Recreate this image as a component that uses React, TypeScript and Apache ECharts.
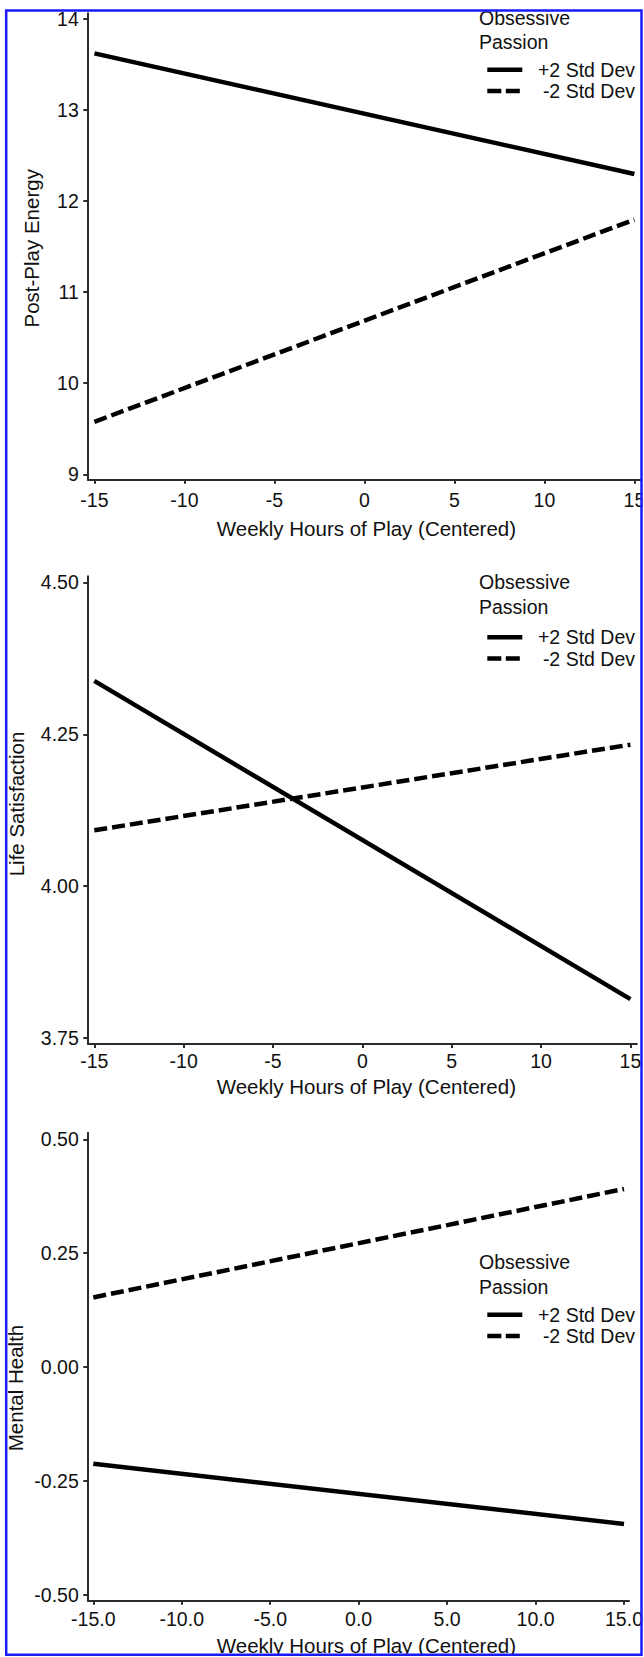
import React, { useEffect, useRef } from "react";
import * as echarts from "echarts";

// ---------------- data ----------------
const xValues = [-15, 15];
const xTicks = [-15, -10, -5, 0, 5, 10, 15];

const energyHigh = [13.62, 12.295];
const energyLow = [9.576, 11.795];
const energyTicks = [9, 10, 11, 12, 13, 14];

const lifeHigh = [4.338, 3.814];
const lifeLow = [4.092, 4.233];
const lifeTicks = [3.75, 4.0, 4.25, 4.5];

const mentalHigh = [-0.212, -0.344];
const mentalLow = [0.153, 0.391];
const mentalTicks = [-0.5, -0.25, 0, 0.25, 0.5];

const legendTitle = ["Obsessive", "Passion"];
const legendHigh = "+2 Std Dev";
const legendLow = "-2 Std Dev";
const xTitle = "Weekly Hours of Play (Centered)";
const yTitles = ["Post-Play Energy", "Life Satisfaction", "Mental Health"];

// ---------------- style / layout ----------------
const FONT = '"Liberation Sans", Arial, Helvetica, sans-serif';
const INK = "#111111";
const AXIS = "#2b2b2b";
const BORDER = "#1a1aff";
const TICK_SIZE = 19.5;
const TITLE_SIZE = 20.5;
const LEGEND_SIZE = 19.5;
const GRID_LEFT = 87.8;

const panels = [
  {
    ticks: energyTicks, high: energyHigh, low: energyLow, yTitle: yTitles[0],
    top: 13.3, height: 466, width: 553.2,
    xMin: -15.367, xMax: 15.367, yMin: 8.9451, yMax: 14.0593,
    yDec: 0, xDec: 0, xLabelGap: 20.7, xNameGap: 49.3, xNamePad: [0, 0, 0, 4],
    yNameGap: 56, yNamePad: [0, 4, 0, 0],
    legendRows: [18.3, 41.7, 69.8, 91],
  },
  {
    ticks: lifeTicks, high: lifeHigh, low: lifeLow, yTitle: yTitles[1],
    top: 576.2, height: 467.3, width: 549.1,
    xMin: -15.364, xMax: 15.364, yMin: 3.74094, yMax: 4.51037,
    yDec: 2, xDec: 0, xLabelGap: 17, xNameGap: 42.9, xNamePad: [0, 0, 0, 8],
    yNameGap: 71.4, yNamePad: [0, 0, 0, 11.8],
    legendRows: [581.7, 606.7, 637.3, 658.5],
  },
  {
    ticks: mentalTicks, high: mentalHigh, low: mentalLow, yTitle: yTitles[2],
    top: 1132.7, height: 467.6, width: 541.2,
    xMin: -15.311, xMax: 15.283, yMin: -0.51163, yMax: 0.51448,
    yDec: 2, xDec: 1, xLabelGap: 18.3, xNameGap: 45.5, xNamePad: [0, 0, 0, 16],
    yNameGap: 72.2, yNamePad: [0, 43, 0, 0],
    legendRows: [1261.7, 1286.7, 1314.8, 1336],
  },
];

const LEG_TEXT_X = 479;
const LEG_LINE_X1 = 487.3;
const LEG_LINE_X2 = 522.3;
const LEG_LABEL_RIGHT = 635;

function textEl(x: number, y: number, text: string, align: string) {
  return {
    type: "text",
    x,
    y,
    z: 20,
    silent: true,
    style: {
      text,
      fill: INK,
      fontSize: LEGEND_SIZE,
      fontFamily: FONT,
      align,
      verticalAlign: "middle",
    },
  };
}

function lineEl(y: number, dash: number[] | null) {
  return {
    type: "line",
    z: 20,
    silent: true,
    shape: { x1: LEG_LINE_X1, y1: y, x2: LEG_LINE_X2, y2: y },
    style: { stroke: "#000", lineWidth: 4.5, lineDash: dash || undefined, lineCap: "butt" },
  };
}

function buildOption() {
  const grid: any[] = [];
  const xAxis: any[] = [];
  const yAxis: any[] = [];
  const series: any[] = [];
  const graphic: any[] = [];

  panels.forEach((p, i) => {
    grid.push({
      left: GRID_LEFT,
      top: p.top,
      width: p.width,
      height: p.height,
      containLabel: false,
      outerBoundsMode: "none",
    });
    xAxis.push({
      gridIndex: i,
      type: "value",
      min: p.xMin,
      max: p.xMax,
      axisLine: { show: true, onZero: false, lineStyle: { color: AXIS, width: 2 } },
      axisTick: { show: true, length: 4.5, customValues: xTicks, lineStyle: { color: AXIS, width: 2 } },
      axisLabel: {
        customValues: xTicks,
        formatter: (v: number) => v.toFixed(p.xDec),
        margin: p.xLabelGap,
        verticalAlign: "middle",
        color: INK,
        fontSize: TICK_SIZE,
        fontFamily: FONT,
      },
      splitLine: { show: false },
      name: xTitle,
      nameLocation: "middle",
      nameGap: p.xNameGap,
      nameMoveOverlap: false,
      nameTextStyle: {
        color: INK,
        fontSize: TITLE_SIZE,
        fontFamily: FONT,
        verticalAlign: "middle",
        padding: p.xNamePad,
      },
    });
    yAxis.push({
      gridIndex: i,
      type: "value",
      min: p.yMin,
      max: p.yMax,
      axisLine: { show: true, onZero: false, lineStyle: { color: AXIS, width: 2 } },
      axisTick: { show: true, length: 4.5, customValues: p.ticks, lineStyle: { color: AXIS, width: 2 } },
      axisLabel: {
        customValues: p.ticks,
        formatter: (v: number) => v.toFixed(p.yDec),
        margin: 9,
        color: INK,
        fontSize: TICK_SIZE,
        fontFamily: FONT,
      },
      splitLine: { show: false },
      name: p.yTitle,
      nameLocation: "middle",
      nameGap: p.yNameGap,
      nameRotate: 90,
      nameMoveOverlap: false,
      nameTextStyle: {
        color: INK,
        fontSize: TITLE_SIZE,
        fontFamily: FONT,
        verticalAlign: "middle",
        padding: p.yNamePad,
      },
    });
    series.push({
      name: legendHigh,
      type: "line",
      xAxisIndex: i,
      yAxisIndex: i,
      data: xValues.map((x, k) => [x, p.high[k]]),
      symbol: "none",
      showSymbol: false,
      silent: true,
      lineStyle: { color: "#000", width: 4.5, type: "solid", cap: "butt" },
    });
    series.push({
      name: legendLow,
      type: "line",
      xAxisIndex: i,
      yAxisIndex: i,
      data: xValues.map((x, k) => [x, p.low[k]]),
      symbol: "none",
      showSymbol: false,
      silent: true,
      lineStyle: { color: "#000", width: 4.5, type: [13, 5], cap: "butt" },
    });

    const r = p.legendRows;
    graphic.push(textEl(LEG_TEXT_X, r[0], legendTitle[0], "left"));
    graphic.push(textEl(LEG_TEXT_X, r[1], legendTitle[1], "left"));
    graphic.push(lineEl(r[2], null));
    graphic.push(textEl(LEG_LABEL_RIGHT, r[2], legendHigh, "right"));
    graphic.push(lineEl(r[3], [14, 4.5]));
    graphic.push(textEl(LEG_LABEL_RIGHT, r[3], legendLow, "right"));
  });

  // white margins outside the blue frame
  const white = { fill: "#ffffff" };
  graphic.push({ type: "rect", z: 90, silent: true, shape: { x: 0, y: 0, width: 644, height: 9.25 }, style: white });
  graphic.push({ type: "rect", z: 90, silent: true, shape: { x: 0, y: 1655.95, width: 644, height: 2 }, style: white });
  graphic.push({ type: "rect", z: 90, silent: true, shape: { x: 0, y: 0, width: 4.95, height: 1657 }, style: white });
  graphic.push({ type: "rect", z: 90, silent: true, shape: { x: 642.75, y: 0, width: 2, height: 1657 }, style: white });
  // blue frame
  graphic.push({
    type: "rect",
    z: 100,
    silent: true,
    shape: { x: 6.2, y: 10.5, width: 635.3, height: 1644.2 },
    style: { fill: "transparent", stroke: BORDER, lineWidth: 2.5 },
  });

  return {
    animation: false,
    backgroundColor: "#ffffff",
    grid,
    xAxis,
    yAxis,
    series,
    graphic: { elements: graphic },
  };
}

export default function App() {
  const ref = useRef<HTMLDivElement>(null);
  useEffect(() => {
    if (!ref.current) return;
    const chart = echarts.init(ref.current, null, { renderer: "svg" });
    chart.setOption(buildOption() as any);
    return () => {
      chart.dispose();
    };
  }, []);
  return (
    <div
      ref={ref}
      style={{ position: "absolute", left: 0, top: 0, width: 644, height: 1657, background: "#fff" }}
    />
  );
}
